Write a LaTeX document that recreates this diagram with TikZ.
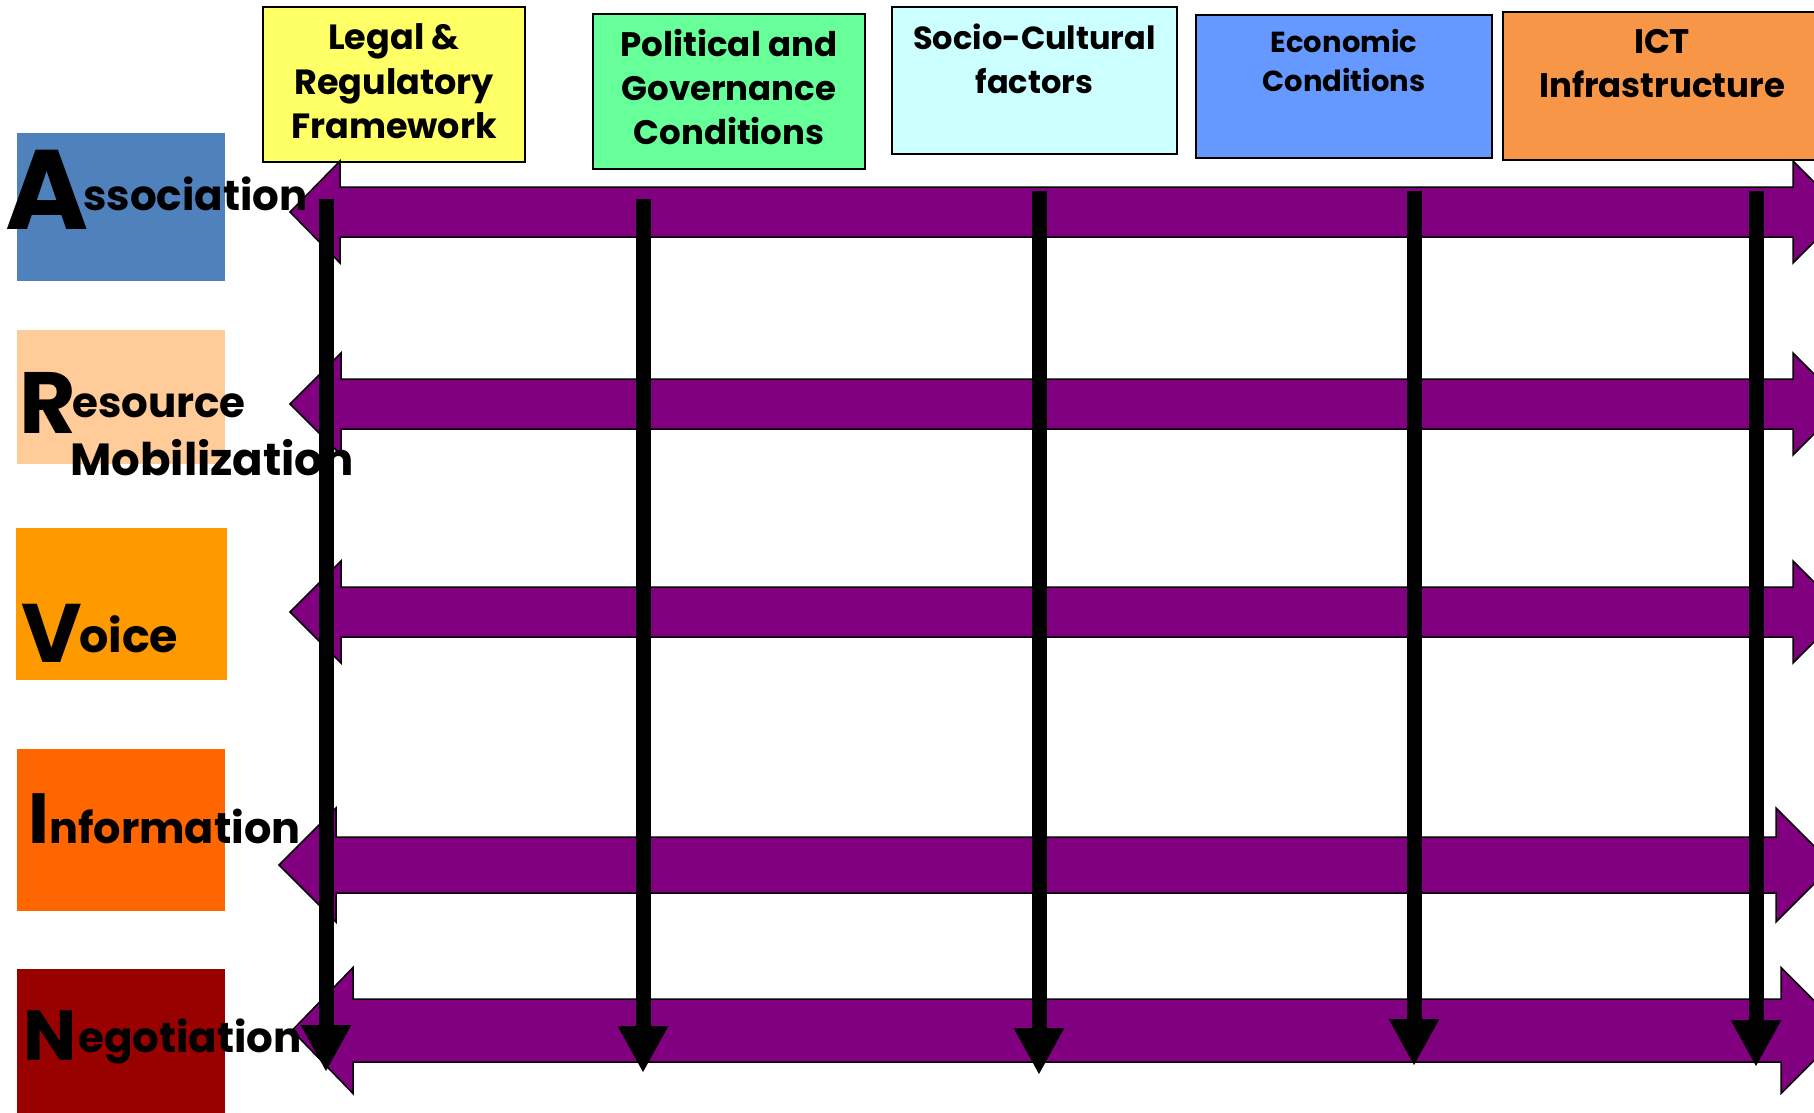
\documentclass[tikz,border=0pt]{standalone}
\usepackage{fontspec}
\newfontfamily\fut{Poppins}
\usetikzlibrary{arrows.meta}
\definecolor{legalc}{HTML}{FFFF66}
\definecolor{politc}{HTML}{66FF99}
\definecolor{socioc}{HTML}{CCFFFF}
\definecolor{econc}{HTML}{6699FF}
\definecolor{ictc}{HTML}{F79646}
\definecolor{assocc}{HTML}{4F81BD}
\definecolor{resc}{HTML}{FFCC99}
\definecolor{voicec}{HTML}{FF9900}
\definecolor{infoc}{HTML}{FF6600}
\definecolor{negc}{HTML}{990000}
\definecolor{arrowpurple}{HTML}{800080}
\newcommand\dblarrow[7]{% y, shaft half, head half, left tip, left base, right base, right tip
  \draw[purplearrow] (#4,#1) -- (#5,#1-#3) -- (#5,#1-#2) -- (#6,#1-#2) -- (#6,#1-#3) -- (#7,#1)
    -- (#6,#1+#3) -- (#6,#1+#2) -- (#5,#1+#2) -- (#5,#1+#3) -- cycle;}
\begin{document}
\begin{tikzpicture}[x=1pt,y=-1pt,
  leftbox/.style={draw=none, inner sep=0pt},
  topbox/.style={draw=black, line width=2.5pt, inner sep=0pt},
  purplearrow/.style={fill=arrowpurple, draw=black, line width=1.5pt, line join=miter},
  vline/.style={line width=15pt, -{Triangle[width=47pt,length=47pt]}},
  lbl/.style={anchor=base west, inner sep=0pt, font=\fut\bfseries\fontsize{42}{42}\selectfont},
  initial/.style={anchor=base west, inner sep=0pt},
  ttl/.style={anchor=base, inner sep=0pt, font=\fut\bfseries\fontsize{34}{44}\selectfont},
]
\useasboundingbox (0,0) rectangle (1814,1113);
\clip (0,0) rectangle (1814,1113);
\fill[white] (0,0) rectangle (1814,1113);

% left boxes
\node[leftbox, fill=assocc, minimum width=208pt, minimum height=148pt] (assocbox) at (121,207) {};
\node[leftbox, fill=resc, minimum width=208pt, minimum height=134pt] (resbox) at (121,397) {};
\node[leftbox, fill=voicec, minimum width=211pt, minimum height=152pt] (voicebox) at (121.5,604) {};
\node[leftbox, fill=infoc, minimum width=208pt, minimum height=162pt] (infobox) at (121,830) {};
\node[leftbox, fill=negc, minimum width=208pt, minimum height=152pt] (negbox) at (121,1045) {};

% top boxes
\node[topbox, fill=legalc, minimum width=262pt, minimum height=155pt] (legalbox) at (394,84.5) {};
\node[topbox, fill=politc, minimum width=272pt, minimum height=155pt] (politbox) at (729,91.5) {};
\node[topbox, fill=socioc, minimum width=285pt, minimum height=147pt] (sociobox) at (1034.5,80.5) {};
\node[topbox, fill=econc, minimum width=296pt, minimum height=143pt] (econbox) at (1344,86.5) {};
\node[topbox, fill=ictc, minimum width=317pt, minimum height=148pt] (ictbox) at (1661.5,86) {};

% purple double arrows
\dblarrow{212}{25}{51}{290}{340}{1793}{1844}
\dblarrow{404}{25}{51}{290}{341}{1793}{1844}
\dblarrow{612}{25}{51}{290}{341}{1793}{1844}
\dblarrow{865}{28}{57}{279}{336}{1776}{1833}
\dblarrow{1030.5}{31.5}{63}{292}{353}{1781}{1844}

% top titles
\node[ttl, font=\fut\bfseries\fontsize{35}{44}\selectfont] (legal1) at (394,50) {Legal \&};
\node[ttl, font=\fut\bfseries\fontsize{35}{44}\selectfont] (legal2) at (394,95) {Regulatory};
\node[ttl, font=\fut\bfseries\fontsize{35}{44}\selectfont] (legal3) at (394,139) {Framework};
\node[ttl] (polit1) at (729,57) {Political and};
\node[ttl] (polit2) at (729,101) {Governance};
\node[ttl] (polit3) at (729,145) {Conditions};
\node[ttl, font=\fut\bfseries\fontsize{32}{44}\selectfont] (socio1) at (1034.5,50) {Socio-Cultural};
\node[ttl, font=\fut\bfseries\fontsize{32}{44}\selectfont] (socio2) at (1034.5,94) {factors};
\node[ttl, font=\fut\bfseries\fontsize{29}{40}\selectfont] (econ1) at (1344,53) {Economic};
\node[ttl, font=\fut\bfseries\fontsize{29}{40}\selectfont] (econ2) at (1344,92) {Conditions};
\node[ttl] (ict1) at (1662,54) {ICT};
\node[ttl] (ict2) at (1662,98) {Infrastructure};

% left labels
\node[initial, font=\fut\bfseries\fontsize{113}{113}\selectfont] (assocA) at (5,229) {A};
\node[lbl] (assocrest) at (83,210) {ssociation};
\node[initial, font=\fut\bfseries\fontsize{87}{87}\selectfont] (resR) at (19,433) {R};
\node[lbl] (resrest) at (72,417) {esource};
\node[lbl, font=\fut\bfseries\fontsize{45}{45}\selectfont] (resmob) at (70,475) {Mobilization};
\node[initial, font=\fut\bfseries\fontsize{83}{83}\selectfont] (voiceV) at (21,662) {V};
\node[lbl, font=\fut\bfseries\fontsize{46}{46}\selectfont] (voicerest) at (79,652) {oice};
\node[initial, font=\fut\bfseries\fontsize{71}{71}\selectfont] (infoI) at (28,843) {I};
\node[lbl, font=\fut\bfseries\fontsize{43}{43}\selectfont] (inforest) at (49,843) {nformation};
\node[initial, font=\fut\bfseries\fontsize{71}{71}\selectfont] (negN) at (23,1060) {N};
\node[lbl] (negrest) at (78,1052) {egotiation};

% black vertical arrows
\coordinate (v1s) at (326,199);  \coordinate (v1e) at (326,1072);
\coordinate (v2s) at (643,199);  \coordinate (v2e) at (643,1073);
\coordinate (v3s) at (1039,191); \coordinate (v3e) at (1039,1075);
\coordinate (v4s) at (1414,191); \coordinate (v4e) at (1414,1066);
\coordinate (v5s) at (1756,191); \coordinate (v5e) at (1756,1067);
\draw[vline] (v1s) -- (v1e);
\draw[vline] (v2s) -- (v2e);
\draw[vline] (v3s) -- (v3e);
\draw[vline] (v4s) -- (v4e);
\draw[vline] (v5s) -- (v5e);
\end{tikzpicture}
\end{document}
